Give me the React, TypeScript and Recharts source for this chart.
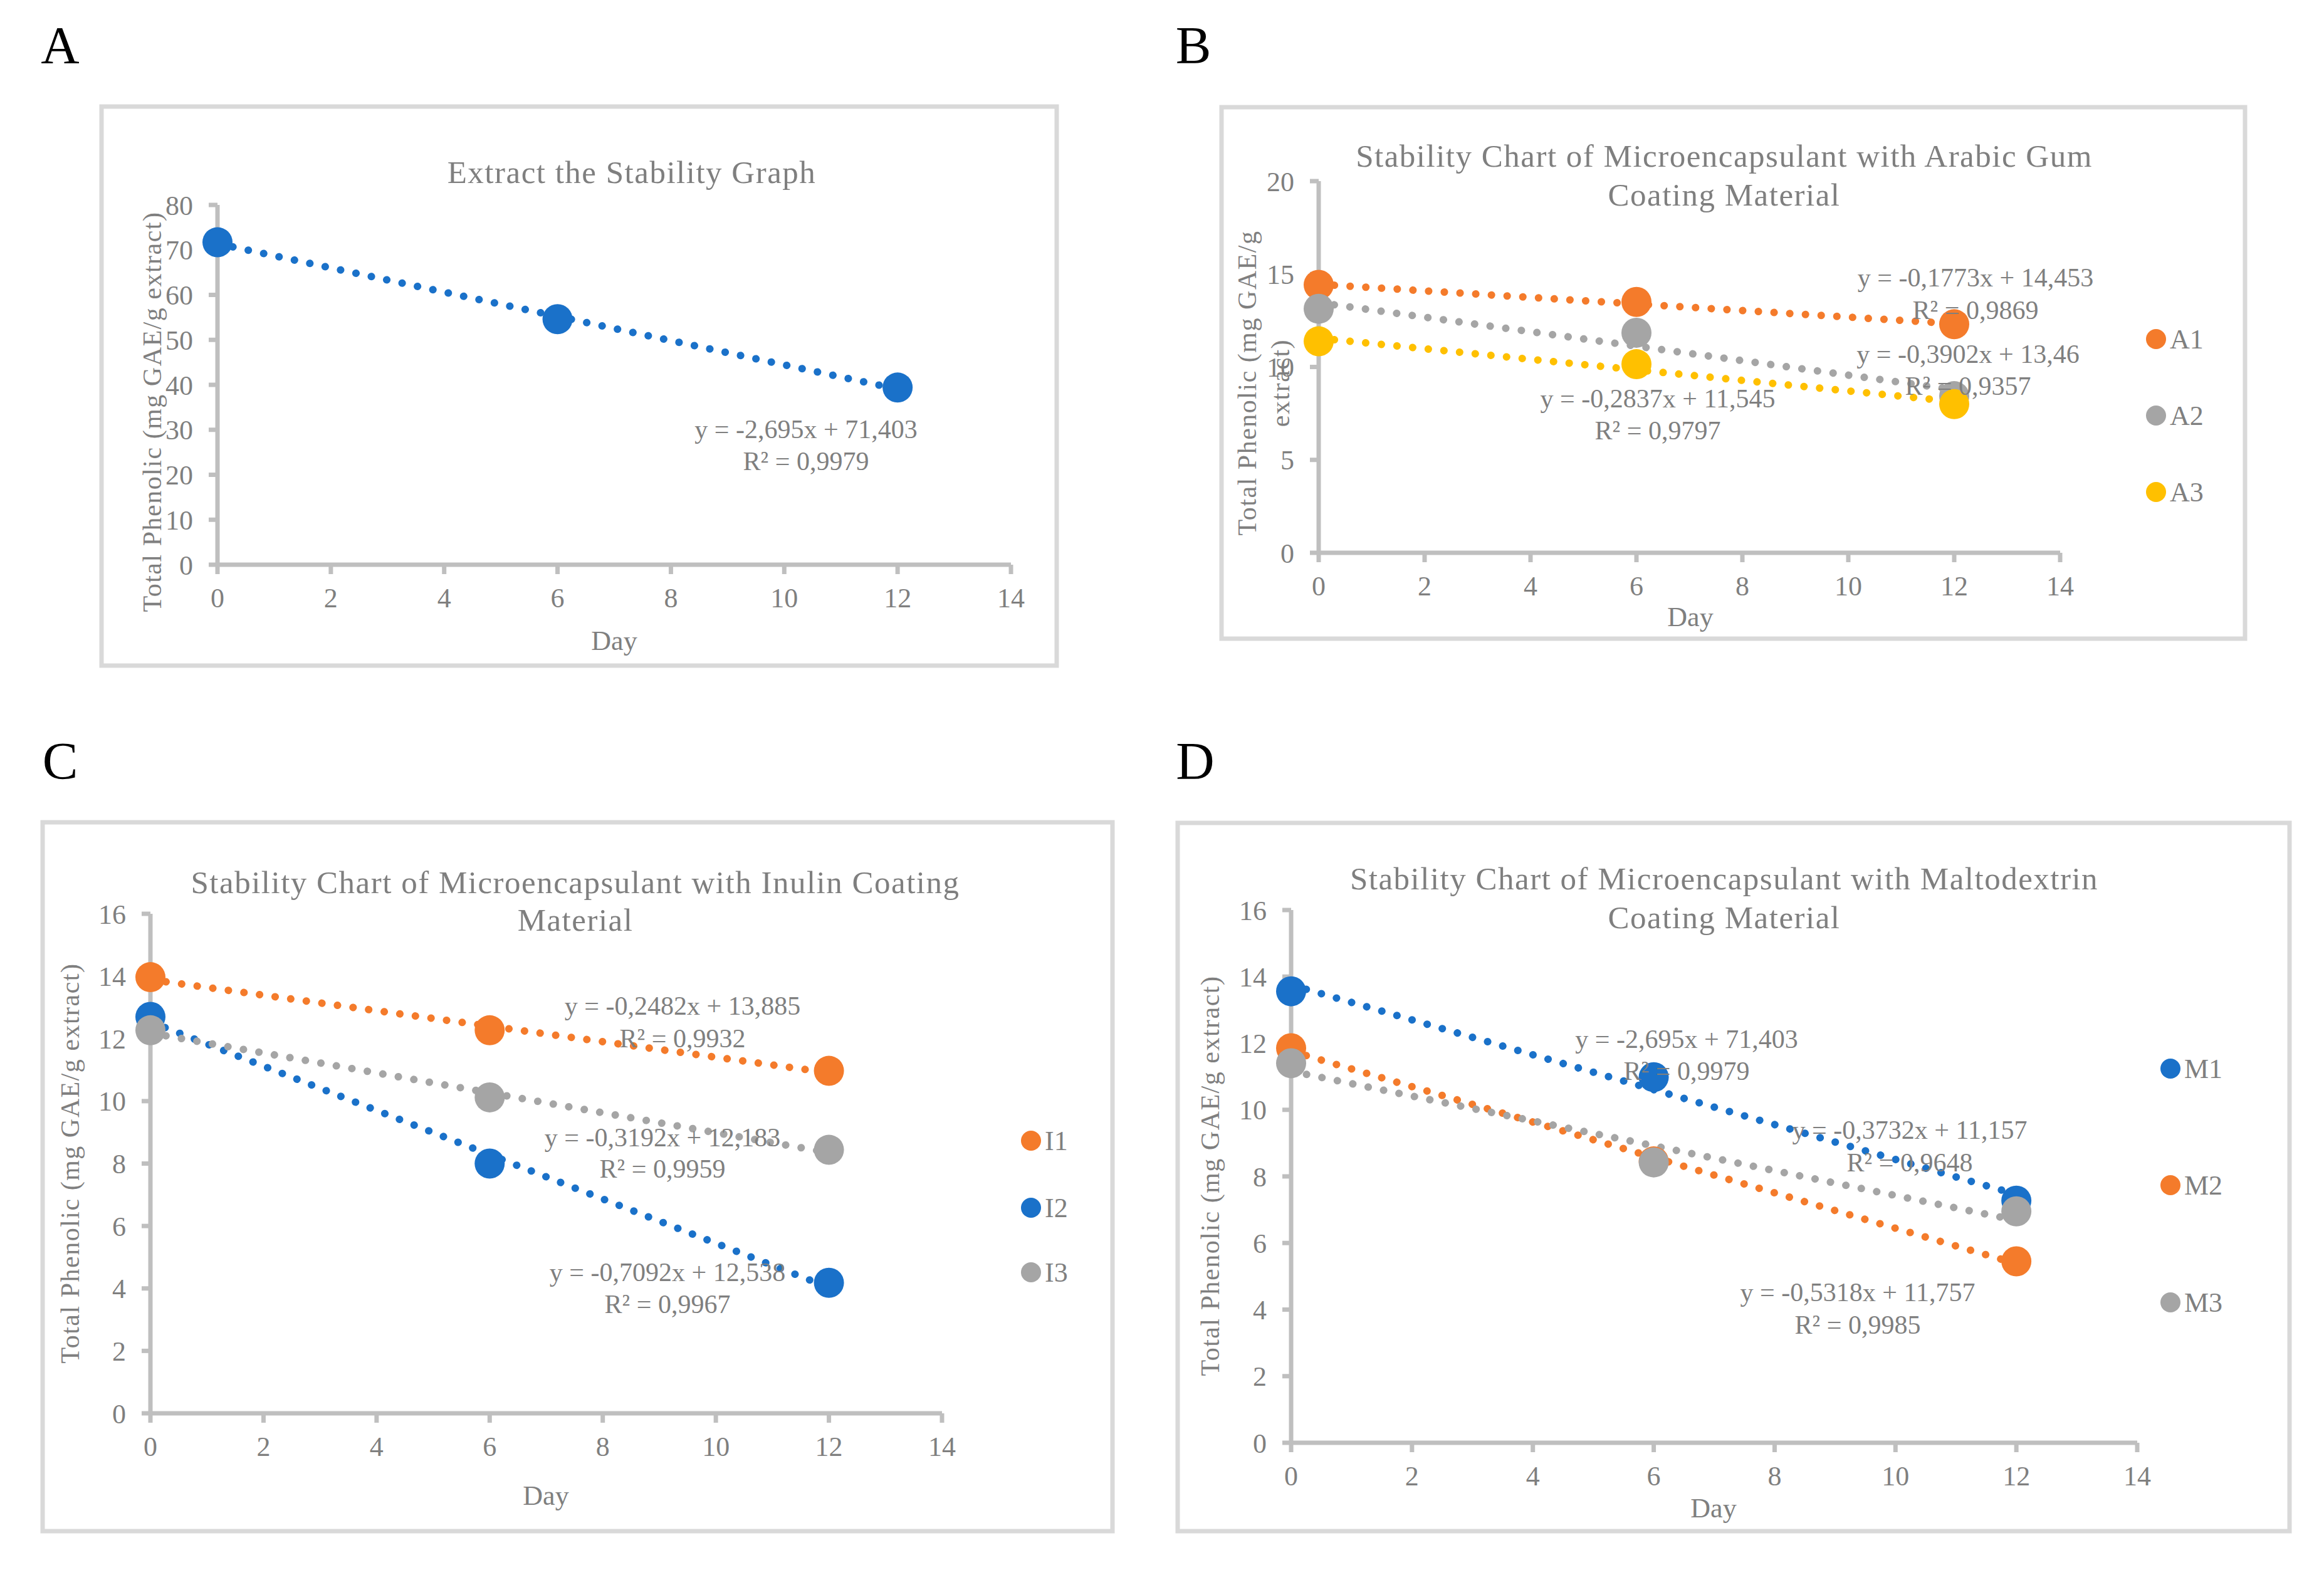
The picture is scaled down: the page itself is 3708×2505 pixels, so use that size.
import React from 'react';
import { ScatterChart, Scatter, XAxis, YAxis, ReferenceLine } from 'recharts';

const W = 3708;
const H = 2505;
const FONT = '"Liberation Serif", "Times New Roman", serif';
const TEXT = '#7f7f7f';
const AXIS = '#bfbfbf';
const BORDER = '#d9d9d9';
const BLUE = '#1a71c9';
const ORANGE = '#f47b2b';
const GRAY = '#a5a5a5';
const YELLOW = '#ffc000';

// ---------- data ----------
const days = [0, 6, 12];
const dayTicks = [0, 2, 4, 6, 8, 10, 12, 14];

// Panel A
const extractValues = [71.7, 54.6, 39.4];
const extractTrend = [71.4, 39.06];
const extractTicks = [0, 10, 20, 30, 40, 50, 60, 70, 80];

// Panel B (Arabic gum)
const a1Values = [14.42, 13.5, 12.3];
const a2Values = [13.13, 11.84, 8.43];
const a3Values = [11.38, 10.15, 8.0];
const a1Trend = [14.45, 12.33];
const a2Trend = [13.46, 8.78];
const a3Trend = [11.55, 8.14];
const arabicTicks = [0, 5, 10, 15, 20];

// Panel C (Inulin)
const i1Values = [13.97, 12.27, 10.97];
const i2Values = [12.7, 8.0, 4.18];
const i3Values = [12.27, 10.12, 8.44];
const i1Trend = [13.89, 10.91];
const i2Trend = [12.54, 4.03];
const i3Trend = [12.18, 8.35];

// Panel D (Maltodextrin)
const m1Values = [13.56, 10.98, 7.27];
const m2Values = [11.85, 8.45, 5.45];
const m3Values = [11.4, 8.42, 6.95];
const m1Trend = [13.75, 7.46];
const m2Trend = [11.76, 5.38];
const m3Trend = [11.16, 6.68];
const sixteenTicks = [0, 2, 4, 6, 8, 10, 12, 14, 16];

// labels
const titleA = ['Extract the Stability Graph'];
const titleB = ['Stability Chart of Microencapsulant with Arabic Gum', 'Coating Material'];
const titleC = ['Stability Chart of Microencapsulant with Inulin Coating', 'Material'];
const titleD = ['Stability Chart of Microencapsulant with Maltodextrin', 'Coating Material'];
const eqA = [['y = -2,695x + 71,403', 'R² = 0,9979']];
const eqB = [
  ['y = -0,1773x + 14,453', 'R² = 0,9869'],
  ['y = -0,3902x + 13,46', 'R² = 0,9357'],
  ['y = -0,2837x + 11,545', 'R² = 0,9797'],
];
const eqC = [
  ['y = -0,2482x + 13,885', 'R² = 0,9932'],
  ['y = -0,3192x + 12,183', 'R² = 0,9959'],
  ['y = -0,7092x + 12,538', 'R² = 0,9967'],
];
const eqD = [
  ['y = -2,695x + 71,403', 'R² = 0,9979'],
  ['y = -0,3732x + 11,157', 'R² = 0,9648'],
  ['y = -0,5318x + 11,757', 'R² = 0,9985'],
];
const yLabel = 'Total Phenolic (mg GAE/g extract)';
const yLabelSplit = ['Total Phenolic (mg GAE/g', 'extract)'];
const xLabel = 'Day';

type Series = { name: string; color: string; values: number[]; trend: number[] };

type PanelCfg = {
  letter: string;
  letterPos: [number, number];
  box: [number, number, number, number]; // L R T B (border centres)
  x0: number;
  x14: number;
  yTop: number;
  y0: number;
  yMax: number;
  yTicks: number[];
  series: Series[];
  title: string[];
  titlePos: [number, number][];
  yTitle: string[];
  yTitlePos: [number, number][];
  dayPos: [number, number];
  eqs: string[][];
  eqPos: [number, number, number][]; // x, y1, y2
  legend: boolean;
  legendX: number;
  legendY: number[];
};

const panels: PanelCfg[] = [
  {
    letter: 'A', letterPos: [96, 72], box: [162, 1686, 170, 1062],
    x0: 347, x14: 1613, yTop: 327, y0: 901, yMax: 80, yTicks: extractTicks,
    series: [{ name: 'Extract', color: BLUE, values: extractValues, trend: extractTrend }],
    title: titleA, titlePos: [[1008, 275]],
    yTitle: [yLabel], yTitlePos: [[243, 657]],
    dayPos: [980, 1022],
    eqs: eqA, eqPos: [[1286, 685, 736]],
    legend: false, legendX: 0, legendY: [],
  },
  {
    letter: 'B', letterPos: [1904, 72], box: [1949, 3582, 171, 1019],
    x0: 2104, x14: 3287, yTop: 289, y0: 882, yMax: 20, yTicks: arabicTicks,
    series: [
      { name: 'A1', color: ORANGE, values: a1Values, trend: a1Trend },
      { name: 'A2', color: GRAY, values: a2Values, trend: a2Trend },
      { name: 'A3', color: YELLOW, values: a3Values, trend: a3Trend },
    ],
    title: titleB, titlePos: [[2751, 249], [2751, 311]],
    yTitle: yLabelSplit, yTitlePos: [[1990, 611], [2043, 611]],
    dayPos: [2697, 984],
    eqs: eqB, eqPos: [[3152, 443, 495], [3140, 565, 616], [2645, 636, 687]],
    legend: true, legendX: 3440, legendY: [541, 663, 785],
  },
  {
    letter: 'C', letterPos: [96, 1214], box: [68, 1775, 1312, 2443],
    x0: 240, x14: 1503, yTop: 1458, y0: 2255, yMax: 16, yTicks: sixteenTicks,
    series: [
      { name: 'I1', color: ORANGE, values: i1Values, trend: i1Trend },
      { name: 'I2', color: BLUE, values: i2Values, trend: i2Trend },
      { name: 'I3', color: GRAY, values: i3Values, trend: i3Trend },
    ],
    title: titleC, titlePos: [[918, 1408], [918, 1468]],
    yTitle: [yLabel], yTitlePos: [[112, 1856]],
    dayPos: [871, 2386],
    eqs: eqC, eqPos: [[1089, 1605, 1657], [1057, 1815, 1865], [1065, 2030, 2081]],
    legend: true, legendX: 1645, legendY: [1820, 1927, 2030],
  },
  {
    letter: 'D', letterPos: [1907, 1214], box: [1879, 3653, 1313, 2443],
    x0: 2060, x14: 3410, yTop: 1452, y0: 2302, yMax: 16, yTicks: sixteenTicks,
    series: [
      { name: 'M1', color: BLUE, values: m1Values, trend: m1Trend },
      { name: 'M2', color: ORANGE, values: m2Values, trend: m2Trend },
      { name: 'M3', color: GRAY, values: m3Values, trend: m3Trend },
    ],
    title: titleD, titlePos: [[2751, 1402], [2751, 1464]],
    yTitle: [yLabel], yTitlePos: [[1931, 1876]],
    dayPos: [2734, 2406],
    eqs: eqD, eqPos: [[2691, 1658, 1709], [3047, 1803, 1855], [2964, 2062, 2114]],
    legend: true, legendX: 3463, legendY: [1705, 1891, 2078],
  },
];

const XH = 80;
const YW = 80;
const BW = 7;

const tickStyle = { fill: TEXT, fontSize: 44, fontFamily: FONT };

function PanelChart({ p }: { p: PanelCfg }) {
  return (
    <div style={{ position: 'absolute', left: 0, top: 0 }}>
      <ScatterChart
        width={W}
        height={H}
        margin={{ top: p.yTop, right: W - p.x14, bottom: H - p.y0 - XH, left: p.x0 - YW }}
      >
        <XAxis
          type="number"
          dataKey="day"
          domain={[0, 14]}
          ticks={dayTicks}
          interval={0}
          height={XH}
          axisLine={{ stroke: AXIS, strokeWidth: 7 }}
          tickLine={{ stroke: AXIS, strokeWidth: 7 }}
          tickSize={15}
          tickMargin={22}
          tick={tickStyle}
        />
        <YAxis
          type="number"
          dataKey="v"
          domain={[0, p.yMax]}
          ticks={p.yTicks}
          interval={0}
          width={YW}
          axisLine={{ stroke: AXIS, strokeWidth: 7 }}
          tickLine={{ stroke: AXIS, strokeWidth: 7 }}
          tickSize={14}
          tickMargin={25}
          tick={tickStyle}
        />
        {p.series.map((s) => (
          <ReferenceLine
            key={'t' + s.name}
            segment={[{ x: days[0], y: s.trend[0] }, { x: days[2], y: s.trend[1] }]}
            stroke={s.color}
            strokeWidth={12}
            strokeDasharray="0.1 25"
            strokeLinecap="round"
            ifOverflow="visible"
          />
        ))}
        {p.series.map((s) => (
          <Scatter
            key={s.name}
            name={s.name}
            data={days.map((d, i) => ({ day: d, v: s.values[i] }))}
            fill={s.color}
            isAnimationActive={false}
            shape={(props: any) => <circle cx={props.cx} cy={props.cy} r={24} fill={s.color} />}
          />
        ))}
      </ScatterChart>
    </div>
  );
}

function Overlay() {
  return (
    <svg width={W} height={H} style={{ position: 'absolute', left: 0, top: 0, pointerEvents: 'none' }}>
      {panels.map((p) => {
        const [L, R, T, B] = p.box;
        return (
          <g key={p.letter}>
            <rect x={L} y={T} width={R - L} height={B - T} fill="none" stroke={BORDER} strokeWidth={BW} />
            <text x={p.letterPos[0]} y={p.letterPos[1]} textAnchor="middle" dominantBaseline="central"
              fontFamily={FONT} fontSize={85} fill="#000">{p.letter}</text>
            {p.title.map((t, i) => (
              <text key={'ti' + i} x={p.titlePos[i][0]} y={p.titlePos[i][1]} textAnchor="middle"
                dominantBaseline="central" fontFamily={FONT} fontSize={51} fill={TEXT}
                style={{ letterSpacing: '1.5px' }}>{t}</text>
            ))}
            {p.yTitle.map((t, i) => (
              <text key={'yt' + i} transform={`translate(${p.yTitlePos[i][0]},${p.yTitlePos[i][1]}) rotate(-90)`}
                textAnchor="middle" dominantBaseline="central" fontFamily={FONT} fontSize={42} fill={TEXT}
                style={{ letterSpacing: '1.5px' }}>{t}</text>
            ))}
            <text x={p.dayPos[0]} y={p.dayPos[1]} textAnchor="middle" dominantBaseline="central"
              fontFamily={FONT} fontSize={44} fill={TEXT}>{xLabel}</text>
            {p.eqs.map((e, i) => (
              <g key={'eq' + i}>
                <text x={p.eqPos[i][0]} y={p.eqPos[i][1]} textAnchor="middle" dominantBaseline="central"
                  fontFamily={FONT} fontSize={42} fill={TEXT}>{e[0]}</text>
                <text x={p.eqPos[i][0]} y={p.eqPos[i][2]} textAnchor="middle" dominantBaseline="central"
                  fontFamily={FONT} fontSize={42} fill={TEXT}>{e[1]}</text>
              </g>
            ))}
            {p.legend && p.series.map((s, i) => (
              <g key={'lg' + s.name}>
                <circle cx={p.legendX} cy={p.legendY[i]} r={16} fill={s.color} />
                <text x={p.legendX + 22} y={p.legendY[i]} dominantBaseline="central" fontFamily={FONT}
                  fontSize={44} fill={TEXT}>{s.name}</text>
              </g>
            ))}
          </g>
        );
      })}
    </svg>
  );
}

export default function App() {
  return (
    <div style={{ position: 'absolute', left: 0, top: 0, width: W, height: H, background: '#fff', overflow: 'hidden' }}>
      {panels.map((p) => (
        <PanelChart key={p.letter} p={p} />
      ))}
      <Overlay />
    </div>
  );
}
